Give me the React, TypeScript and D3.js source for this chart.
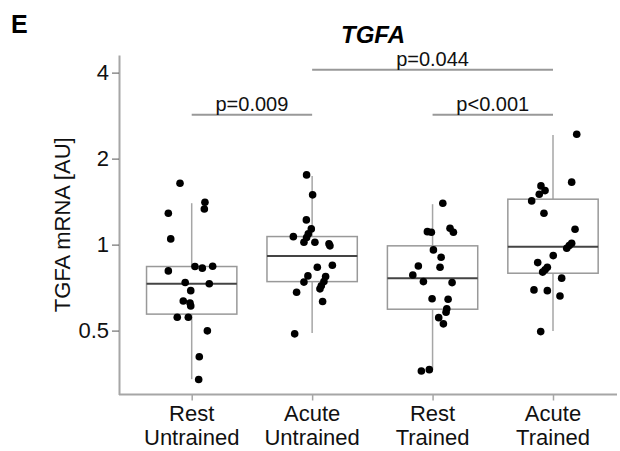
import React, { useEffect, useRef } from 'react';
import * as d3 from 'd3';

// groups, in plotting order
const groupTop = ['Rest', 'Acute', 'Rest', 'Acute'];
const groupBottom = ['Untrained', 'Untrained', 'Trained', 'Trained'];

// TGFA mRNA per subject [AU]
const restUntrained = [1.64, 1.407, 1.333, 1.288, 1.047, 0.838, 0.827, 0.84, 0.809, 0.737, 0.729, 0.69, 0.635, 0.624, 0.61, 0.557, 0.557, 0.499, 0.405, 0.337];
const acuteUntrained = [1.754, 1.493, 1.22, 1.135, 1.09, 1.058, 1.066, 1.019, 1.019, 1.006, 0.99, 0.847, 0.833, 0.777, 0.739, 0.773, 0.742, 0.718, 0.7, 0.681, 0.632, 0.487];
const restTrained = [1.396, 1.11, 1.105, 1.141, 1.105, 0.958, 0.903, 0.842, 0.833, 0.783, 0.742, 0.736, 0.646, 0.644, 0.596, 0.58, 0.555, 0.528, 0.361, 0.365];
const acuteTrained = [2.435, 1.654, 1.605, 1.545, 1.501, 1.422, 1.288, 1.132, 1.011, 0.992, 0.971, 0.915, 0.865, 0.833, 0.816, 0.801, 0.763, 0.694, 0.69, 0.661, 0.496];

// horizontal jitter, fraction of group spacing
const jitterRU = [-0.097, 0.11, 0.105, -0.194, -0.174, 0.027, 0.088, 0.174, -0.194, -0.054, 0.146, -0.008, -0.07, -0.014, -0.008, -0.12, -0.028, 0.13, 0.063, 0.058];
const jitterAU = [-0.046, 0.004, -0.048, -0.007, -0.032, -0.046, -0.156, -0.068, 0.023, 0.14, 0.148, 0.168, 0.043, -0.035, -0.068, 0.112, 0.098, 0.076, 0.065, -0.129, 0.087, -0.145];
const jitterRT = [0.085, -0.043, -0.01, 0.145, 0.173, 0.007, 0.071, -0.118, 0.062, -0.164, -0.076, 0.162, -0.004, 0.129, 0.118, 0.112, 0.051, 0.09, -0.093, -0.027];
const jitterAT = [0.197, 0.155, -0.1, -0.066, -0.114, -0.177, -0.075, 0.183, 0.155, 0.135, 0.114, 0.002, -0.127, -0.047, -0.066, -0.086, 0.072, -0.158, -0.047, 0.058, -0.102];

// box statistics (log scale)
const q1 = [0.571, 0.742, 0.594, 0.794];
const medians = [0.73, 0.913, 0.763, 0.982];
const q3 = [0.838, 1.067, 0.99, 1.442];
const whiskerLow = [0.338, 0.49, 0.364, 0.498];
const whiskerHigh = [1.396, 1.74, 1.385, 2.42];

const yTicks = [0.5, 1, 2, 4];

// pairwise comparisons
const compFrom = [0, 2, 1];
const compTo = [1, 3, 3];
const compLabel = ['p=0.009', 'p<0.001', 'p=0.044'];
const compLevel = [2.85, 2.85, 4.09];

const FONT = '"Liberation Sans", Arial, sans-serif';

const App = () => {
    const svgRef = useRef(null);

    useEffect(() => {
        const svg = d3.select(svgRef.current);
        svg.selectAll('*').remove();

        const groups = [restUntrained, acuteUntrained, restTrained, acuteTrained];
        const jitters = [jitterRU, jitterAU, jitterRT, jitterAT];
        const idx = groups.map((_, i) => String(i));

        const x = d3.scalePoint().domain(idx).range([191.7, 553]);
        const step = x.step();
        const y = d3.scaleLog().base(2).domain([0.2987, 4.61]).range([394.5, 55]);

        const left = 119;
        const right = 617;
        const bottom = y.range()[0];

        // y axis
        const ya = svg.append('g')
            .attr('transform', `translate(${left},0)`)
            .call(d3.axisLeft(y).tickValues(yTicks).tickFormat(d => String(d)).tickSize(7).tickSizeOuter(0).tickPadding(3));
        ya.select('.domain').attr('stroke', '#a6a6a6').attr('stroke-width', 2);
        ya.selectAll('.tick line').attr('stroke', '#555').attr('stroke-width', 1);
        ya.selectAll('.tick text').attr('font-family', FONT).attr('font-size', 22).attr('fill', '#111');

        // x axis
        svg.append('line')
            .attr('x1', left).attr('x2', right)
            .attr('y1', bottom).attr('y2', bottom)
            .attr('stroke', '#a6a6a6').attr('stroke-width', 2);

        const xa = svg.append('g')
            .attr('transform', `translate(0,${bottom})`)
            .call(d3.axisBottom(x).tickSize(6).tickFormat(() => ''));
        xa.select('.domain').remove();
        xa.selectAll('.tick line').attr('stroke', '#a6a6a6').attr('stroke-width', 1.5);

        const xl = svg.append('g').attr('font-family', FONT).attr('font-size', 22).attr('fill', '#111').attr('text-anchor', 'middle');
        idx.forEach((k, i) => {
            xl.append('text').attr('x', x(k)).attr('y', 421).text(groupTop[i]);
            xl.append('text').attr('x', x(k)).attr('y', 445).text(groupBottom[i]);
        });

        // y title
        svg.append('text')
            .attr('transform', `translate(70,${(55 + bottom) / 2}) rotate(-90)`)
            .attr('text-anchor', 'middle')
            .attr('font-family', FONT).attr('font-size', 22).attr('fill', '#111')
            .text('TGFA mRNA [AU]');

        // title and panel letter
        svg.append('text')
            .attr('x', 373).attr('y', 43)
            .attr('text-anchor', 'middle')
            .attr('font-family', FONT).attr('font-size', 24)
            .attr('font-weight', 'bold').attr('font-style', 'italic')
            .text('TGFA');
        svg.append('text')
            .attr('x', 11).attr('y', 33)
            .attr('font-family', '"Liberation Sans Narrow", "Liberation Sans", sans-serif')
            .attr('font-size', 25).attr('font-weight', 'bold')
            .text('E');

        // boxes
        const bw = step * 0.75;
        const boxes = svg.append('g');
        idx.forEach((k, i) => {
            const cx = x(k);
            boxes.append('line')
                .attr('x1', cx).attr('x2', cx)
                .attr('y1', y(whiskerLow[i])).attr('y2', y(whiskerHigh[i]))
                .attr('stroke', '#a6a6a6').attr('stroke-width', 1.5);
            boxes.append('rect')
                .attr('x', cx - bw / 2).attr('width', bw)
                .attr('y', y(q3[i])).attr('height', y(q1[i]) - y(q3[i]))
                .attr('fill', 'white').attr('stroke', '#999').attr('stroke-width', 1.5);
            boxes.append('line')
                .attr('x1', cx - bw / 2).attr('x2', cx + bw / 2)
                .attr('y1', y(medians[i])).attr('y2', y(medians[i]))
                .attr('stroke', '#444').attr('stroke-width', 2);
        });

        // jittered points
        const pts = svg.append('g');
        groups.forEach((vals, i) => {
            pts.selectAll(null)
                .data(vals)
                .enter()
                .append('circle')
                .attr('cx', (d, j) => x(String(i)) + jitters[i][j] * step)
                .attr('cy', d => y(d))
                .attr('r', 3.8)
                .attr('fill', '#000');
        });

        // significance brackets
        const br = svg.append('g');
        compLabel.forEach((lab, i) => {
            const x1 = x(String(compFrom[i]));
            const x2 = x(String(compTo[i]));
            const ly = y(compLevel[i]);
            br.append('line')
                .attr('x1', x1).attr('x2', x2)
                .attr('y1', ly).attr('y2', ly)
                .attr('stroke', '#999').attr('stroke-width', 2);
            br.append('text')
                .attr('x', (x1 + x2) / 2).attr('y', ly - 3.5)
                .attr('text-anchor', 'middle')
                .attr('font-family', FONT).attr('font-size', 20).attr('fill', '#111')
                .text(lab);
        });
    }, []);

    return (
        <svg ref={svgRef} width={620} height={451} style={{ position: 'absolute', left: 0, top: 0, background: 'white' }} />
    );
};

export default App;
